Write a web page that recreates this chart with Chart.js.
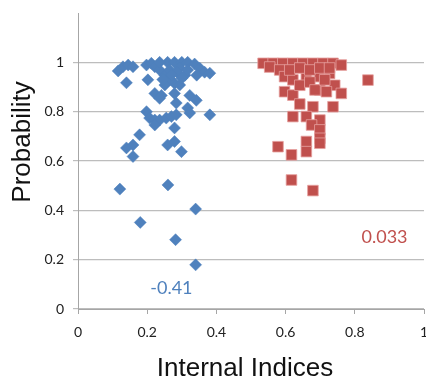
<!DOCTYPE html>
<html>
<head>
<meta charset="utf-8">
<script src="https://cdn.jsdelivr.net/npm/chart.js@4.4.1/dist/chart.umd.min.js"></script>
<style>
  html, body { margin: 0; padding: 0; background: #fff; }
  #wrap { width: 426px; height: 378px; }
</style>
</head>
<body>
<div id="wrap"><canvas id="scatterId" width="426" height="378"></canvas></div>
<script>
// blue diamonds: [internal index, probability]
const blueX = [0.116, 0.130, 0.145, 0.159, 0.140, 0.198, 0.212, 0.222, 0.202, 0.259, 0.279, 0.300, 0.317, 0.337,
    0.352, 0.366, 0.381, 0.343, 0.279, 0.222, 0.241, 0.236, 0.279, 0.284, 0.323, 0.342, 0.317, 0.323, 0.381,
    0.198, 0.207, 0.222, 0.236, 0.255, 0.270, 0.284, 0.222, 0.279, 0.178, 0.140, 0.159, 0.159, 0.259, 0.279,
    0.299, 0.121, 0.260, 0.340, 0.180, 0.282, 0.340,
    0.236, 0.251, 0.265, 0.294, 0.309, 0.265, 0.294, 0.251, 0.317, 0.236, 0.286, 0.300, 0.270, 0.245];
const blueY = [0.965, 0.982, 0.989, 0.982, 0.917, 0.989, 0.996, 0.982, 0.929, 1.000, 1.000, 1.000, 1.000, 0.993,
    0.976, 0.960, 0.956, 0.948, 0.915, 0.874, 0.866, 0.854, 0.874, 0.835, 0.866, 0.846, 0.815, 0.795, 0.787,
    0.800, 0.774, 0.766, 0.766, 0.774, 0.780, 0.787, 0.746, 0.734, 0.706, 0.653, 0.665, 0.618, 0.665, 0.679,
    0.638, 0.486, 0.503, 0.405, 0.351, 0.281, 0.179,
    0.969, 0.948, 0.969, 0.977, 0.948, 0.929, 0.908, 0.908, 0.969, 1.000, 0.960, 0.935, 0.950, 0.930];

// red squares
const redX = [0.535, 0.564, 0.592, 0.621, 0.650, 0.679, 0.708, 0.737, 0.761, 0.554, 0.583,
    0.597, 0.621, 0.660, 0.699, 0.727, 0.742, 0.838, 0.597, 0.621, 0.699, 0.718, 0.761,
    0.641, 0.679, 0.737, 0.621, 0.660, 0.699, 0.675, 0.699, 0.699, 0.660, 0.660, 0.578,
    0.617, 0.617, 0.679, 0.699,
    0.612, 0.641, 0.670, 0.699, 0.727, 0.641, 0.670, 0.685, 0.713];
const redY = [0.996, 0.996, 0.996, 0.996, 0.996, 0.996, 0.996, 0.996, 0.989, 0.981, 0.969,
    0.942, 0.929, 0.935, 0.942, 0.955, 0.907, 0.928, 0.881, 0.867, 0.888, 0.881, 0.874,
    0.831, 0.820, 0.820, 0.780, 0.780, 0.766, 0.746, 0.726, 0.692, 0.679, 0.638, 0.658,
    0.625, 0.523, 0.480, 0.672,
    0.969, 0.977, 0.969, 0.977, 0.977, 0.907, 0.920, 0.888, 0.929];

const xTicks = [0, 0.2, 0.4, 0.6, 0.8, 1];
const yTicks = [0, 0.2, 0.4, 0.6, 0.8, 1];

// correlation labels placed in data units
const notes = [
    { text: '-0.41', x: 0.27, y: 0.086, color: '#4F81BD' },
    { text: '0.033', x: 0.886, y: 0.293, color: '#C0504D' }
];

const toPoints = (xs, ys) => xs.map((x, i) => ({ x: x, y: ys[i] }));

// notes + axis titles (the y title sits above the axis middle, like the original)
const notePlugin = {
    id: 'notes',
    afterDatasetsDraw(chart) {
        const ctx = chart.ctx;
        ctx.save();
        ctx.font = '18px Lato, "Open Sans", sans-serif';
        ctx.textAlign = 'center';
        ctx.textBaseline = 'middle';
        notes.forEach(n => {
            ctx.fillStyle = n.color;
            ctx.fillText(n.text, chart.scales.x.getPixelForValue(n.x), chart.scales.y.getPixelForValue(n.y));
        });

        ctx.fillStyle = '#111';
        ctx.font = '26px "Liberation Sans", Arial, sans-serif';
        ctx.textBaseline = 'alphabetic';
        ctx.fillText('Internal Indices', 245, 376);

        ctx.translate(23, 142);
        ctx.rotate(-Math.PI / 2);
        ctx.textBaseline = 'middle';
        ctx.fillText('Probability', 0, 0);
        ctx.restore();
    }
};

const ctx = document.getElementById('scatterId').getContext('2d');
new Chart(ctx, {
    type: 'scatter',
    data: {
        datasets: [{
            label: 'internal',
            data: toPoints(blueX, blueY),
            pointStyle: 'rectRot',
            pointRadius: 6,
            backgroundColor: '#4F81BD',
            borderColor: '#4F81BD',
            borderWidth: 0.5
        }, {
            label: 'other',
            data: toPoints(redX, redY),
            pointStyle: 'rect',
            pointRadius: 7.5,
            backgroundColor: '#C0504D',
            borderColor: 'rgba(230, 160, 158, 1)',
            borderWidth: 0.8
        }]
    },
    options: {
        responsive: false,
        animation: false,
        layout: { autoPadding: false, padding: { top: 13, right: 2, left: 0, bottom: 0 } },
        plugins: {
            legend: { display: false },
            tooltip: { enabled: false }
        },
        scales: {
            x: {
                type: 'linear',
                min: 0,
                max: 1,
                afterBuildTicks: s => { s.ticks = xTicks.map(v => ({ value: v })); },
                afterFit: s => { s.height = 69; s.paddingLeft = 0; s.paddingRight = 0; },
                border: { color: '#A6A6A6', width: 1 },
                grid: { display: true, drawOnChartArea: false, drawTicks: true, tickLength: 5, color: '#A6A6A6' },
                ticks: {
                    color: '#222',
                    padding: 10,
                    maxRotation: 0,
                    font: { family: 'Lato, "Open Sans", sans-serif', size: 14 },
                    callback: v => String(v)
                }
            },
            y: {
                type: 'linear',
                min: 0,
                max: 1.2,
                afterBuildTicks: s => { s.ticks = yTicks.map(v => ({ value: v })); },
                afterFit: s => { s.width = 78; s.paddingTop = 0; s.paddingBottom = 0; },
                border: { color: '#A6A6A6', width: 1 },
                grid: { color: '#BDBDBD', tickLength: 5, lineWidth: 1.2 },
                ticks: {
                    color: '#222',
                    padding: 9,
                    font: { family: 'Lato, "Open Sans", sans-serif', size: 14 },
                    callback: v => String(v)
                }
            }
        }
    },
    plugins: [notePlugin]
});
</script>
</body>
</html>
